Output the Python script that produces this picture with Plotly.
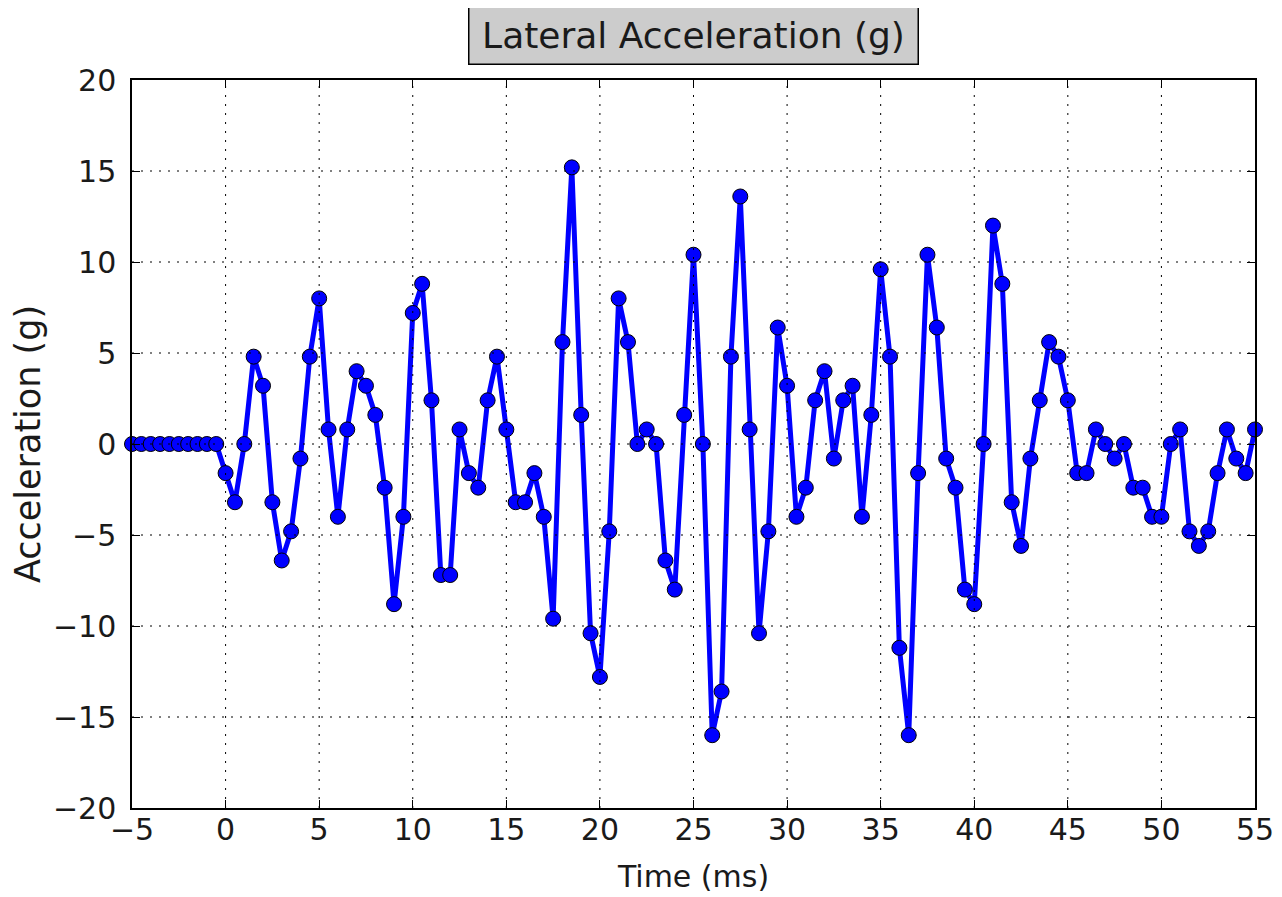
import numpy as np
import plotly.graph_objects as go

# time axis in ms, one sample every 0.5 ms
time_ms = np.arange(-5, 55.01, 0.5)

# lateral acceleration in g
accel_g = [
    0, 0, 0, 0, 0, 0, 0, 0, 0, 0,                       # -5 .. -0.5
    -1.6, -3.2, 0, 4.8, 3.2, -3.2, -6.4, -4.8, -0.8, 4.8,  # 0 .. 4.5
    8.0, 0.8, -4.0, 0.8, 4.0, 3.2, 1.6, -2.4, -8.8, -4.0,  # 5 .. 9.5
    7.2, 8.8, 2.4, -7.2, -7.2, 0.8, -1.6, -2.4, 2.4, 4.8,  # 10 .. 14.5
    0.8, -3.2, -3.2, -1.6, -4.0, -9.6, 5.6, 15.2, 1.6, -10.4,  # 15 .. 19.5
    -12.8, -4.8, 8.0, 5.6, 0, 0.8, 0, -6.4, -8.0, 1.6,  # 20 .. 24.5
    10.4, 0, -16.0, -13.6, 4.8, 13.6, 0.8, -10.4, -4.8, 6.4,  # 25 .. 29.5
    3.2, -4.0, -2.4, 2.4, 4.0, -0.8, 2.4, 3.2, -4.0, 1.6,  # 30 .. 34.5
    9.6, 4.8, -11.2, -16.0, -1.6, 10.4, 6.4, -0.8, -2.4, -8.0,  # 35 .. 39.5
    -8.8, 0, 12.0, 8.8, -3.2, -5.6, -0.8, 2.4, 5.6, 4.8,  # 40 .. 44.5
    2.4, -1.6, -1.6, 0.8, 0, -0.8, 0, -2.4, -2.4, -4.0,  # 45 .. 49.5
    -4.0, 0, 0.8, -4.8, -5.6, -4.8, -1.6, 0.8, -0.8, -1.6,  # 50 .. 54.5
    0.8,                                                 # 55
]

x_ticks = [-5, 0, 5, 10, 15, 20, 25, 30, 35, 40, 45, 50, 55]
y_ticks = [-20, -15, -10, -5, 0, 5, 10, 15, 20]

FONT = "DejaVu Sans"
TEXT = '#1a1a1a'

fig = go.Figure()
fig.add_trace(go.Scatter(
    x=time_ms, y=accel_g,
    mode='lines+markers',
    line=dict(color='#0000ff', width=5),
    marker=dict(size=15, color='#0000ff', line=dict(color='black', width=1)),
    cliponaxis=False,
    showlegend=False,
))

# dotted grid drawn on top of the data, like matplotlib classic
grid = dict(color='black', width=1, dash='2px,7px')
for v in x_ticks[1:-1]:
    fig.add_vline(x=v, line=grid, layer='above')
for v in y_ticks[1:-1]:
    fig.add_hline(y=v, line=grid, layer='above')

axis_common = dict(
    showline=True, linecolor='black', linewidth=1.5, mirror='allticks',
    ticks='inside', ticklen=8, tickwidth=1, tickcolor='black',
    showgrid=False, zeroline=False,
    tickfont=dict(family=FONT, size=30, color=TEXT),
    automargin=False,
)

fig.update_xaxes(
    range=[-5, 55], tickvals=x_ticks,
    title=dict(text='Time (ms)', font=dict(family=FONT, size=30, color=TEXT), standoff=20),
    ticklabelstandoff=-6,
    **axis_common,
)
fig.update_yaxes(
    range=[-20, 20], tickvals=y_ticks,
    title=dict(text='Acceleration (g)', font=dict(family=FONT, size=35, color=TEXT), standoff=5),
    ticklabelstandoff=8,
    **axis_common,
)

fig.add_annotation(
    text='Lateral Acceleration (g)',
    xref='paper', yref='paper', x=0.5, y=1 + 44 / 728,
    xanchor='center', yanchor='middle', showarrow=False,
    font=dict(family=FONT, size=36, color=TEXT),
    width=436, height=44,
    bgcolor='#cccccc', bordercolor='black', borderwidth=1.5, borderpad=6,
)

# the page body adds an 8px offset, so the figure is sized to fit inside it
fig.update_layout(
    width=1274, height=889,
    margin=dict(l=124, r=27, t=72, b=89),
    plot_bgcolor='white', paper_bgcolor='white',
)

fig.write_html("out.html")
